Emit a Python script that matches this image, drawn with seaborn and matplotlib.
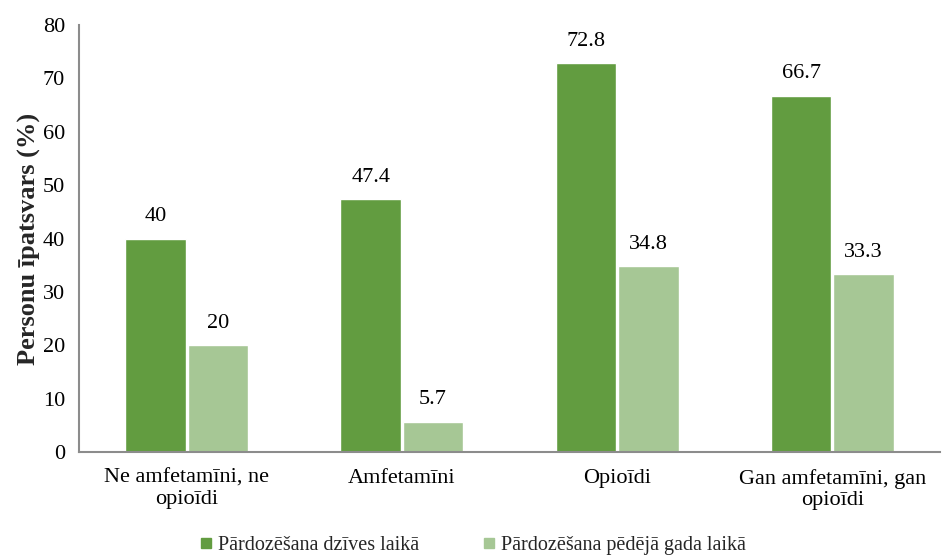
import matplotlib
matplotlib.use("Agg")
import matplotlib.pyplot as plt
import seaborn as sns
import pandas as pd
from matplotlib.lines import Line2D

categories = ["Ne amfetamīni, ne\nopioīdi", "Amfetamīni", "Opioīdi", "Gan amfetamīni, gan\nopioīdi"]
series_names = ["Pārdozēšana dzīves laikā", "Pārdozēšana pēdējā gada laikā"]
lifetime = [40, 47.4, 72.8, 66.7]
last_year = [20, 5.7, 34.8, 33.3]
y_ticks = [0, 10, 20, 30, 40, 50, 60, 70, 80]
y_label = "Personu īpatsvars (%)"

colors = ["#629C40", "#A6C795"]
axis_grey = "#8C8C8C"
serif = ["Liberation Serif", "DejaVu Serif"]
fs = 16

df = pd.DataFrame({
    "kategorija": categories * 2,
    "sērija": [series_names[0]] * 4 + [series_names[1]] * 4,
    "vērtība": lifetime + last_year,
})

sns.set_theme(style="white")
plt.rcParams["font.family"] = serif

fig = plt.figure(figsize=(9.42, 5.55), dpi=100)
ax = fig.add_axes([79 / 942, 103 / 555, 861 / 942, 427 / 555])

sns.barplot(data=df, x="kategorija", y="vērtība", hue="sērija",
            order=categories, hue_order=series_names, palette=colors,
            width=0.58, gap=0.03, saturation=1, legend=False, ax=ax)

def fmt(v):
    return f"{v:g}"

for cont in ax.containers:
    ax.bar_label(cont, labels=[fmt(b.get_height()) for b in cont],
                 padding=9, fontsize=fs, color="#000000")

ax.set_ylim(0, 80)
ax.set_xlim(-0.5, 3.455)
ax.set_yticks(y_ticks)
ax.set_yticklabels([str(t) for t in y_ticks], fontsize=fs)
ax.set_xticks(range(len(categories)))
ax.set_xticklabels(categories, fontsize=fs, linespacing=1.2)
ax.set_xticks([-0.5, 0.5, 1.5, 2.5, 3.5], minor=True)
ax.tick_params(axis="x", which="major", length=0, pad=12, colors="black")
ax.tick_params(axis="x", which="minor", length=7, width=1.2, color=axis_grey, direction="out")
ax.tick_params(axis="y", length=6, width=1.2, color=axis_grey, direction="out", pad=4, labelcolor="black")
ax.set_xlabel("")
ax.set_ylabel(y_label, fontsize=19, fontweight="bold", labelpad=1)

for side in ["top", "right"]:
    ax.spines[side].set_visible(False)
for side in ["left", "bottom"]:
    ax.spines[side].set_color(axis_grey)
    ax.spines[side].set_linewidth(1.5)

handles = [Line2D([0], [0], marker="s", linestyle="none", markersize=7,
                  markerfacecolor=c, markeredgecolor=c) for c in colors]
leg = fig.legend(handles, series_names, loc="center", bbox_to_anchor=(0.5, 10 / 555),
                 ncol=2, frameon=False, fontsize=14.5,
                 handletextpad=0.1, columnspacing=3.0, handlelength=1.0)
for t in leg.get_texts():
    t.set_fontfamily(serif)

fig.savefig("out.png", dpi=100)
